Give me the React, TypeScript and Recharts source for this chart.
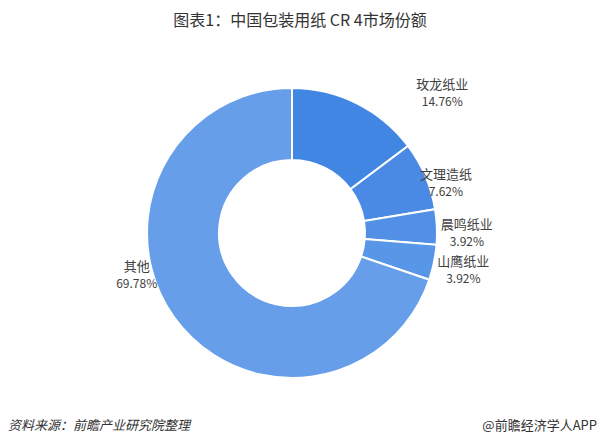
import { PieChart, Pie, Cell } from "recharts";

const names = ["玫龙纸业", "文理造纸", "晨鸣纸业", "山鹰纸业", "其他"];
const shares = [14.76, 7.62, 3.92, 3.92, 69.78];
const colors = ["#4286e3", "#4a8ae4", "#5190e6", "#5896e7", "#669ee9"];
// small per-label nudges so labels sit where the original put them
const labelNudge = [
  [72, 16],
  [-7, 18],
  [0, 6],
  [0, 0],
  [-13, -61],
];

const data = names.map((name, i) => ({ name, value: shares[i] }));

const RAD = Math.PI / 180;
const font = "'Noto Sans CJK SC', 'Noto Sans', sans-serif";

const renderLabel = (props: any) => {
  const { cx, cy, midAngle, outerRadius, index } = props;
  const r = outerRadius + 30;
  const x = cx + r * Math.cos(-midAngle * RAD) + labelNudge[index][0];
  const y = cy + r * Math.sin(-midAngle * RAD) + labelNudge[index][1];
  return (
    <g>
      <text x={x} y={y - 8.5} textAnchor="middle" dominantBaseline="central" fontSize={13} fill="#404040" fontFamily={font}>
        {names[index]}
      </text>
      <text x={x} y={y + 8.5} textAnchor="middle" dominantBaseline="central" fontSize={12} fill="#404040" fontFamily={font}>
        {shares[index].toFixed(2)}%
      </text>
    </g>
  );
};

export default function App() {
  return (
    <div style={{ position: "absolute", left: 0, top: 0, width: 600, height: 443, background: "#fff", fontFamily: font }}>
      <div style={{ position: "absolute", top: 7, left: 0, width: 600, textAlign: "center", fontSize: 16, color: "#333" }}>
        图表1：中国包装用纸 CR 4市场份额
      </div>
      <PieChart width={600} height={443} margin={{ top: 0, right: 0, bottom: 0, left: 0 }}>
        <Pie
          data={data}
          dataKey="value"
          nameKey="name"
          cx={292}
          cy={233}
          innerRadius={73}
          outerRadius={145}
          startAngle={90}
          endAngle={-270}
          stroke="#fff"
          strokeWidth={2}
          label={renderLabel}
          labelLine={false}
          isAnimationActive={false}
        >
          {data.map((d, i) => (
            <Cell key={d.name} fill={colors[i]} />
          ))}
        </Pie>
      </PieChart>
      <div style={{ position: "absolute", top: 415, left: 8, fontSize: 13, fontStyle: "italic", color: "#333" }}>
        资料来源：前瞻产业研究院整理
      </div>
      <div style={{ position: "absolute", top: 415, right: 3, fontSize: 13, color: "#333" }}>
        @前瞻经济学人APP
      </div>
    </div>
  );
}
